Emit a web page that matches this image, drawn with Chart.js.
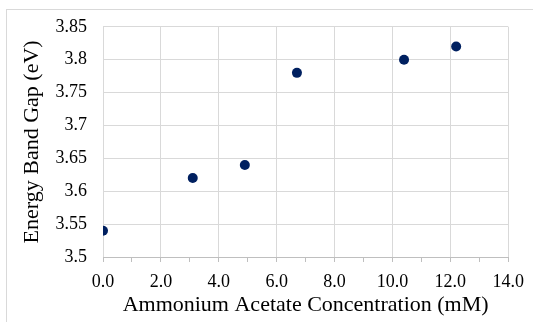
<!DOCTYPE html>
<html>
<head>
<meta charset="utf-8">
<script src="https://cdn.jsdelivr.net/npm/chart.js@4/dist/chart.umd.min.js"></script>
<style>
  html, body { margin: 0; padding: 0; background: #fff; }
  #wrap { position: relative; width: 533px; height: 322px; }
  #frame { position: absolute; left: 6px; top: 9px; right: 0; bottom: 0; border-left: 1px solid #d9d9d9; border-top: 1px solid #d9d9d9; pointer-events: none; }
  canvas { position: absolute; left: 0; top: 0; }
</style>
</head>
<body>
<div id="wrap">
  <canvas id="c" width="533" height="322"></canvas>
  <div id="frame"></div>
</div>
<script>
// Data
const concentration = [0.0, 3.1, 4.9, 6.7, 10.4, 12.2];   // mM
const bandGap       = [3.54, 3.62, 3.64, 3.78, 3.80, 3.82]; // eV
const xTitle = 'Ammonium Acetate Concentration (mM)';
const yTitle = 'Energy Band Gap (eV)';

const points = concentration.map((x, i) => ({ x: x, y: bandGap[i] }));
const serif = "'Liberation Serif', 'Times New Roman', serif";
const GRID = '#d9d9d9';
const AXIS = '#bfbfbf';

new Chart(document.getElementById('c'), {
  type: 'scatter',
  data: {
    datasets: [{
      data: points,
      backgroundColor: '#002060',
      borderColor: '#002060',
      pointRadius: 5,
      pointHoverRadius: 5,
      borderWidth: 0
    }]
  },
  options: {
    responsive: false,
    animation: false,
    events: [],
    layout: { padding: { left: 0, right: 24, top: 26, bottom: 4 } },
    plugins: { legend: { display: false }, tooltip: { enabled: false } },
    scales: {
      x: {
        type: 'linear',
        min: 0, max: 14,
        afterBuildTicks: (s) => {
          const t = [];
          for (let v = 0; v <= 14; v++) t.push({ value: v });
          s.ticks = t;
        },
        afterFit: (s) => { s.height = 61; },
        ticks: {
          autoSkip: false, maxRotation: 0, minRotation: 0,
          color: '#000',
          font: { family: serif, size: 18 },
          padding: 9,
          callback: (v) => (v % 2 === 0 ? Number(v).toFixed(1) : '')
        },
        grid: {
          color: (ctx) => (ctx.tick && ctx.tick.value % 2 === 0 ? GRID : 'rgba(0,0,0,0)'),
          tickColor: AXIS,
          tickLength: 5,
          lineWidth: 1
        },
        border: { display: true, color: AXIS, width: 1 },
        title: {
          display: true, text: xTitle, color: '#000',
          font: { family: serif, size: 22 },
          padding: { top: 0, bottom: 0 }
        }
      },
      y: {
        type: 'linear',
        min: 3.5, max: 3.85,
        afterBuildTicks: (s) => {
          const t = [];
          for (let i = 0; i <= 7; i++) t.push({ value: +(3.5 + i * 0.05).toFixed(2) });
          s.ticks = t;
        },
        afterFit: (s) => { s.width = 103; },
        ticks: {
          color: '#000',
          font: { family: serif, size: 18 },
          padding: 16,
          callback: (v) => String(+Number(v).toFixed(2))
        },
        grid: { color: GRID, drawTicks: false, lineWidth: 1 },
        border: { display: false },
        title: {
          display: true, text: yTitle, color: '#000',
          font: { family: serif, size: 22 },
          padding: { top: 19, bottom: 0 }
        }
      }
    }
  }
});
</script>
</body>
</html>
